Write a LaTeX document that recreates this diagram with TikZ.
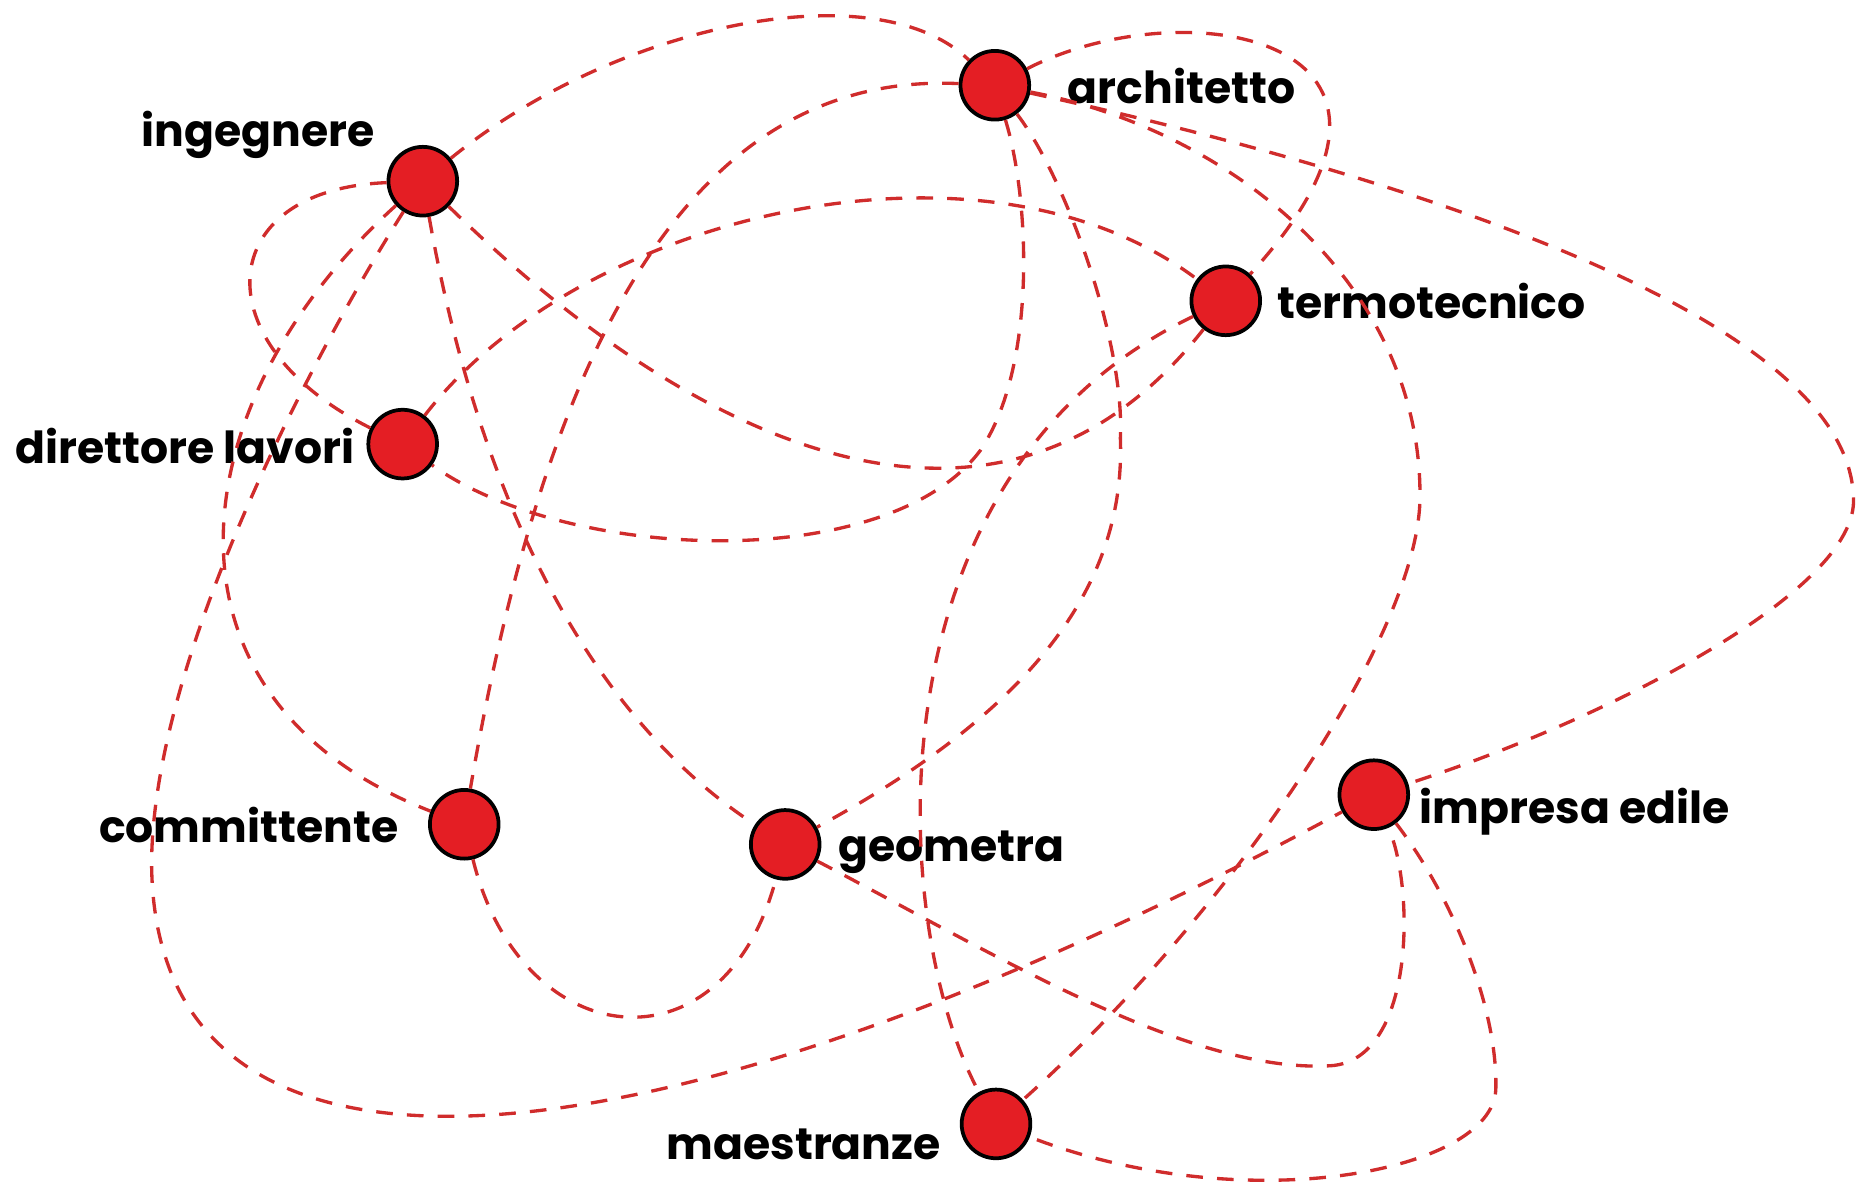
\documentclass[tikz,border=0pt]{standalone}
\usepackage{fontspec}
\setmainfont{Poppins}
\begin{document}
\begin{tikzpicture}[x=1cm,y=-1cm]
\definecolor{dotred}{RGB}{228,30,36}
\definecolor{linkred}{RGB}{208,44,44}
\tikzstyle{dot}=[draw=black,line width=0.9pt,fill=dotred,shape=circle,inner sep=0pt,minimum size=0.58cm]
\tikzstyle{lbl}=[inner sep=0pt,font=\bfseries\fontsize{10.6}{13}\selectfont]
\tikzstyle{link}=[draw=linkred,line width=0.8pt,dash pattern=on 4pt off 3.4pt]
\useasboundingbox (0,0) rectangle (15.68,10.08);
\node[dot] (arc) at (8.40,0.72) {};
\node[dot] (ing) at (3.57,1.53) {};
\node[dot] (ter) at (10.35,2.54) {};
\node[dot] (dir) at (3.40,3.75) {};
\node[dot] (com) at (3.92,6.96) {};
\node[dot] (geo) at (6.63,7.13) {};
\node[dot] (imp) at (11.60,6.71) {};
\node[dot] (mae) at (8.41,9.49) {};
\node[lbl,anchor=base west] (arcL) at (9.01,0.87) {architetto};
\node[lbl,anchor=base east] (ingL) at (3.17,1.24) {ingegnere};
\node[lbl,anchor=base west] (terL) at (10.78,2.69) {termotecnico};
\node[lbl,anchor=base east] (dirL) at (3.00,3.91) {direttore lavori};
\node[lbl,anchor=base east] (comL) at (3.37,7.11) {committente};
\node[lbl,anchor=base west] (geoL) at (7.07,7.27) {geometra};
\node[lbl,anchor=base west] (impL) at (11.98,6.95) {impresa edile};
\node[lbl,anchor=base east] (maeL) at (7.95,9.79) {maestranze};
\draw[link]
(ing) .. controls (5.2,0.2) and (7.4,-0.25) .. (arc)
(arc) .. controls (5.8,0.6) and (4.6,3.0) .. (com)
(arc) .. controls (8.7,1.7) and (8.75,3.1) .. (8.28,3.80) .. controls (7.5,4.85) and (4.8,4.75) .. (dir)
(arc) .. controls (9.0,1.5) and (9.5,2.9) .. (9.46,3.70) .. controls (9.5,4.8) and (8.9,5.9) .. (geo)
(arc) .. controls (10.0,-0.1) and (12.4,0.3) .. (ter)
(arc) .. controls (10.4,1.1) and (12.0,2.4) .. (11.99,4.20) .. controls (11.98,5.4) and (10.3,7.8) .. (mae)
(arc) .. controls (11.5,1.4) and (15.6,2.6) .. (15.65,4.20) .. controls (15.7,5.0) and (13.5,6.1) .. (imp)
(ing) .. controls (1.8,1.6) and (1.7,2.9) .. (dir)
(ing) .. controls (1.5,3.4) and (1.2,5.9) .. (com)
(ing) .. controls (2.7,2.9) and (1.3,5.5) .. (1.28,7.27) .. controls (1.28,10.4) and (5.5,10.0) .. (imp)
(ing) .. controls (3.9,3.4) and (4.6,5.8) .. (geo)
(ing) .. controls (6.0,3.9) and (8.5,4.9) .. (ter)
(dir) .. controls (4.9,1.8) and (8.3,1.0) .. (ter)
(com) .. controls (4.4,8.9) and (6.1,9.1) .. (geo)
(geo) .. controls (8.3,8.0) and (10.0,9.05) .. (11.20,9.00) .. controls (11.95,9.0) and (11.95,7.5) .. (imp)
(ter) .. controls (7.3,4.0) and (7.5,7.8) .. (mae)
(imp) .. controls (12.25,7.55) and (12.65,8.5) .. (12.63,9.20) .. controls (12.6,9.9) and (10.5,10.3) .. (mae)
;
\end{tikzpicture}
\end{document}
